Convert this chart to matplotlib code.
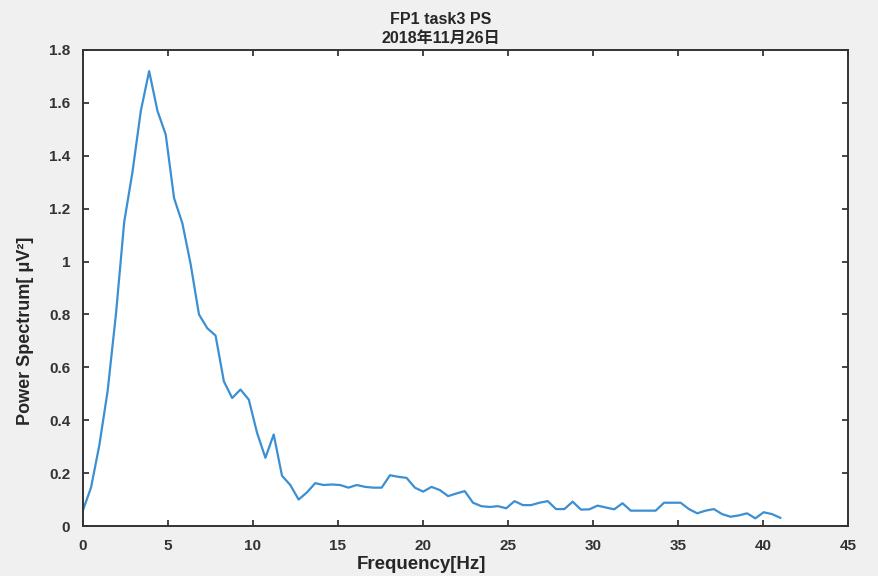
import numpy as np
import matplotlib
matplotlib.use("Agg")
import matplotlib.pyplot as plt

plt.rcParams['font.family'] = ['Liberation Sans', 'Noto Sans CJK JP', 'DejaVu Sans']

# ---- data ----
df = 0.4883  # frequency resolution [Hz]
power = [
    0.057, 0.145, 0.305, 0.51, 0.80, 1.15, 1.34, 1.57, 1.72, 1.57,
    1.48, 1.24, 1.145, 0.99, 0.80, 0.748, 0.72, 0.547, 0.484, 0.516,
    0.478, 0.352, 0.258, 0.346, 0.19, 0.155, 0.10, 0.127, 0.162, 0.155,
    0.157, 0.155, 0.145, 0.155, 0.148, 0.145, 0.145, 0.192, 0.186, 0.182,
    0.145, 0.13, 0.148, 0.136, 0.113, 0.123, 0.132, 0.088, 0.075, 0.072,
    0.075, 0.067, 0.094, 0.079, 0.079, 0.088, 0.094, 0.064, 0.064, 0.092,
    0.062, 0.063, 0.077, 0.07, 0.063, 0.086, 0.058, 0.058, 0.058, 0.058,
    0.088, 0.088, 0.088, 0.064, 0.048, 0.058, 0.064, 0.045, 0.035, 0.04,
    0.048, 0.029, 0.052, 0.045, 0.031,
]
freq = np.arange(len(power)) * df

xticks = [0, 5, 10, 15, 20, 25, 30, 35, 40, 45]
yticks = [0, 0.2, 0.4, 0.6, 0.8, 1, 1.2, 1.4, 1.6, 1.8]
ytick_labels = ['0', '0.2', '0.4', '0.6', '0.8', '1', '1.2', '1.4', '1.6', '1.8']

# ---- figure ----
W, H = 879, 576
fig = plt.figure(figsize=(W / 100, H / 100), dpi=100)
fig.patch.set_facecolor('#f0f0f0')
ax = fig.add_axes([82.7 / W, 1 - 526 / H, (848 - 82.7) / W, (526 - 50) / H])
ax.set_facecolor('white')

ax.plot(freq, power, color='#3b8fd2', lw=1.6)

ax.set_xlim(0, 45)
ax.set_ylim(0, 1.8)
ax.set_xticks(xticks)
ax.set_yticks(yticks)
ax.set_yticklabels(ytick_labels)

txt = '#262626'
ax.tick_params(direction='in', length=4, width=1.2, top=True, right=True,
               colors=txt, labelsize=11)
ax.tick_params(axis='x', pad=9)
ax.tick_params(axis='y', pad=9)
for lab in ax.get_xticklabels() + ax.get_yticklabels():
    lab.set_fontweight('bold')
    lab.set_color('#333333')
for s in ax.spines.values():
    s.set_color('#333333')
    s.set_linewidth(1.4)

ax.set_xlabel('Frequency[Hz]', fontsize=13.5, fontweight='bold', color=txt)
ax.xaxis.set_label_coords(0.443, -0.062)
ax.set_ylabel('Power Spectrum[ μV²]', fontsize=13, fontweight='bold', color=txt)
ax.yaxis.set_label_coords(-0.063, 0.41)

fig.text(441 / W, 1 - 19 / H, 'FP1 task3 PS', ha='center', va='center',
         fontsize=11.5, fontweight='bold', color=txt)
fig.text(441 / W, 1 - 38 / H, '2018年11月26日', ha='center', va='center',
         fontsize=11.5, fontweight='bold', color=txt)

fig.savefig('out.png', dpi=100, facecolor=fig.get_facecolor())
